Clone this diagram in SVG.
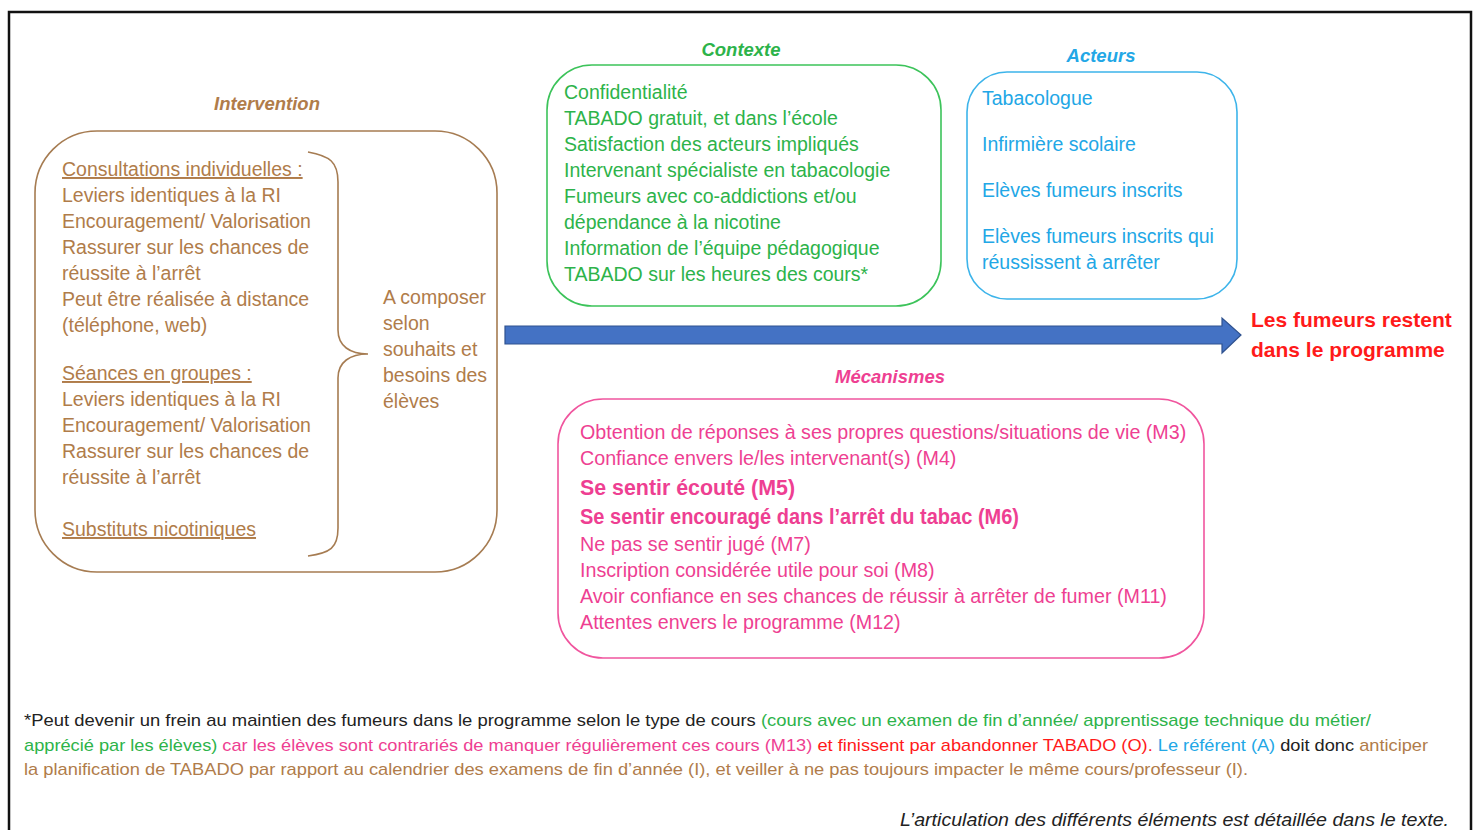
<svg xmlns="http://www.w3.org/2000/svg" width="1478" height="830" viewBox="0 0 1478 830">
<style>
text{font-family:"Liberation Sans",Arial,sans-serif;font-size:19.5px}
.title{font-weight:bold;font-style:italic;font-size:18.5px;text-anchor:middle}
.br{fill:#B07C4A}.gr{fill:#2DB34A}.bl{fill:#22A7E6}.pk{fill:#EE3F92}.rd{fill:#FF1A1A}.bk{fill:#222}
.ul{text-decoration:underline}
.box{fill:none;stroke-width:1.6}
.ft{font-size:17px}
.m{font-size:19.7px}
.mb{font-size:22px;font-weight:bold}
.out{font-size:21px;font-weight:bold}
.end{font-size:18.5px;font-style:italic}
</style>
<rect x="9" y="12" width="1462" height="830" fill="none" stroke="#111" stroke-width="2.5"/>

<g id="intervention">
<text class="title br" x="267" y="110">Intervention</text>
<rect class="box" x="35" y="131" width="462" height="441" rx="62" stroke="#A67C52"/>
<path d="M308,152 C330,156 338,162 338,182 L338,330 C338,346 350,354 368,354 C350,354 338,362 338,378 L338,528 C338,548 330,553 308,556" fill="none" stroke="#A67C52" stroke-width="1.6"/>
<text class="br ul" x="62" y="176">Consultations individuelles :</text>
<text class="br" x="62" y="202">Leviers identiques à la RI</text>
<text class="br" x="62" y="228">Encouragement/ Valorisation</text>
<text class="br" x="62" y="254">Rassurer sur les chances de</text>
<text class="br" x="62" y="280">réussite à l’arrêt</text>
<text class="br" x="62" y="306">Peut être réalisée à distance</text>
<text class="br" x="62" y="332">(téléphone, web)</text>
<text class="br ul" x="62" y="380">Séances en groupes :</text>
<text class="br" x="62" y="406">Leviers identiques à la RI</text>
<text class="br" x="62" y="432">Encouragement/ Valorisation</text>
<text class="br" x="62" y="458">Rassurer sur les chances de</text>
<text class="br" x="62" y="484">réussite à l’arrêt</text>
<text class="br ul" x="62" y="536">Substituts nicotiniques</text>
<text class="br" x="383" y="304">A composer</text>
<text class="br" x="383" y="330">selon</text>
<text class="br" x="383" y="356">souhaits et</text>
<text class="br" x="383" y="382">besoins des</text>
<text class="br" x="383" y="408">élèves</text>
</g>

<g id="contexte">
<text class="title gr" x="741" y="56">Contexte</text>
<rect class="box" x="547" y="65" width="394" height="241" rx="45" stroke="#3CC35A"/>
<text class="gr" x="564" y="99">Confidentialité</text>
<text class="gr" x="564" y="125">TABADO gratuit, et dans l’école</text>
<text class="gr" x="564" y="151">Satisfaction des acteurs impliqués</text>
<text class="gr" x="564" y="177">Intervenant spécialiste en tabacologie</text>
<text class="gr" x="564" y="203">Fumeurs avec co-addictions et/ou</text>
<text class="gr" x="564" y="229">dépendance à la nicotine</text>
<text class="gr" x="564" y="255">Information de l’équipe pédagogique</text>
<text class="gr" x="564" y="281">TABADO sur les heures des cours*</text>
</g>

<g id="acteurs">
<text class="title bl" x="1101" y="62">Acteurs</text>
<rect class="box" x="967" y="72" width="270" height="227" rx="40" stroke="#3DB4EA"/>
<text class="bl" x="982" y="105">Tabacologue</text>
<text class="bl" x="982" y="151">Infirmière scolaire</text>
<text class="bl" x="982" y="197">Elèves fumeurs inscrits</text>
<text class="bl" x="982" y="243">Elèves fumeurs inscrits qui</text>
<text class="bl" x="982" y="269">réussissent à arrêter</text>
</g>

<g id="resultat">
<text class="rd out" x="1251" y="327">Les fumeurs restent</text>
<text class="rd out" x="1251" y="357">dans le programme</text>
</g>

<g id="mecanismes">
<text class="title pk" x="890" y="383">Mécanismes</text>
<rect class="box" x="558" y="399" width="646" height="259" rx="45" stroke="#F0559E"/>
<text class="pk m" x="580" y="439">Obtention de réponses à ses propres questions/situations de vie (M3)</text>
<text class="pk m" x="580" y="465">Confiance envers le/les intervenant(s) (M4)</text>
<text class="pk mb" x="580" y="495" textLength="215" lengthAdjust="spacingAndGlyphs">Se sentir écouté (M5)</text>
<text class="pk mb" x="580" y="524" textLength="439" lengthAdjust="spacingAndGlyphs">Se sentir encouragé dans l’arrêt du tabac (M6)</text>
<text class="pk m" x="580" y="551">Ne pas se sentir jugé (M7)</text>
<text class="pk m" x="580" y="577">Inscription considérée utile pour soi (M8)</text>
<text class="pk m" x="580" y="603">Avoir confiance en ses chances de réussir à arrêter de fumer (M11)</text>
<text class="pk m" x="580" y="629">Attentes envers le programme (M12)</text>
</g>

<g id="connectors">
<path d="M505,326 L1222,326 L1222,318 L1241,335 L1222,353 L1222,344 L505,344 Z" fill="#4472C4" stroke="#2F528F" stroke-width="1.2"/>
</g>

<g id="note">
<text class="ft" x="24" y="726" textLength="1347" lengthAdjust="spacingAndGlyphs"><tspan class="bk">*Peut devenir un frein au maintien des fumeurs dans le programme selon le type de cours </tspan><tspan class="gr">(cours avec un examen de fin d’année/ apprentissage technique du métier/</tspan></text>
<text class="ft" x="24" y="751" textLength="1404" lengthAdjust="spacingAndGlyphs"><tspan class="gr">apprécié par les élèves)</tspan><tspan class="pk"> car les élèves sont contrariés de manquer régulièrement ces cours (M13)</tspan><tspan class="rd"> et finissent par abandonner  TABADO (O).</tspan><tspan class="bl"> Le référent (A)</tspan><tspan class="bk"> doit donc</tspan><tspan class="br"> anticiper</tspan></text>
<text class="ft br" x="24" y="775" textLength="1224" lengthAdjust="spacingAndGlyphs">la planification  de TABADO par rapport au calendrier des examens de fin d’année (I), et veiller à ne pas toujours impacter le même cours/professeur (I).</text>
<text class="bk end" x="900" y="826" textLength="549" lengthAdjust="spacingAndGlyphs">L’articulation des différents éléments est détaillée dans le texte.</text>
</g>
</svg>
